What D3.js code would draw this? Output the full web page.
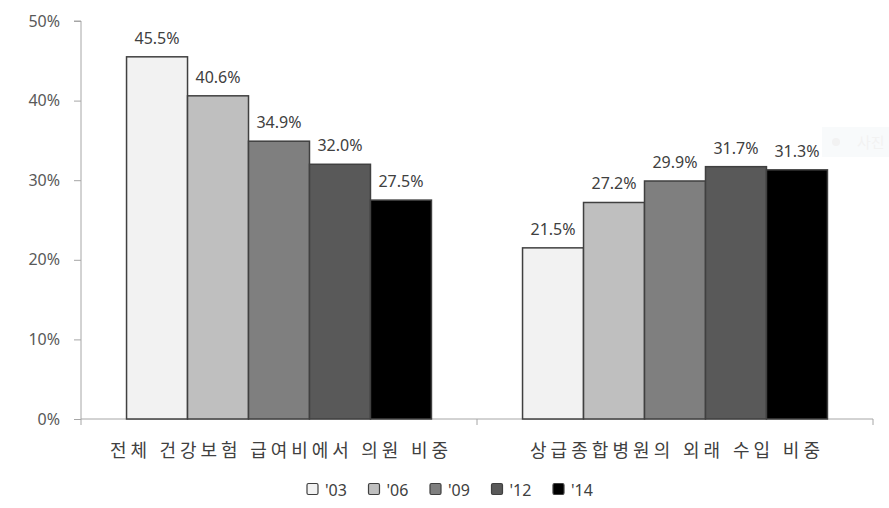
<!DOCTYPE html>
<html><head><meta charset="utf-8">
<script src="https://cdn.jsdelivr.net/npm/d3@7"></script>
<style>body{margin:0;background:#fff}svg{display:block}</style>
</head><body>
<svg id="c" width="889" height="508"></svg>
<script>
const categories = ["전체 건강보험 급여비에서 의원 비중", "상급종합병원의 외래 수입 비중"];
const series = ["'03", "'06", "'09", "'12", "'14"];
const values03 = [45.5, 21.5];
const values06 = [40.6, 27.2];
const values09 = [34.9, 29.9];
const values12 = [32.0, 31.7];
const values14 = [27.5, 31.3];
const yTicks = [0, 10, 20, 30, 40, 50];
const colors = ["#f2f2f2", "#bfbfbf", "#7f7f7f", "#595959", "#000000"];

(function () {
const allValues = [values03, values06, values09, values12, values14];
const svg = d3.select("#c");
const font = "'Noto Sans','Noto Sans CJK KR',sans-serif";
const mLeft = 81, mRight = 873, mTop = 21, mBottom = 419;

const y = d3.scaleLinear().domain([0, 50]).range([mBottom, mTop]);
const x0 = d3.scaleBand().domain(categories).range([mLeft, mRight]).padding(0);
const x1 = d3.scaleBand().domain(series)
  .range([x0.bandwidth() * 0.115, x0.bandwidth() * 0.885]).padding(0);

// y axis
const yAxis = svg.append("g").attr("transform", `translate(${mLeft},0)`)
  .call(d3.axisLeft(y).tickValues(yTicks).tickSize(7).tickPadding(14).tickFormat(d => d + "%"));
yAxis.select(".domain").attr("d", `M-7,${mTop}H0V${mBottom + 6}`);
yAxis.selectAll("line").attr("stroke", "#a6a6a6");
yAxis.select(".domain").attr("stroke", "#a6a6a6");
yAxis.selectAll("text").attr("font-family", font).attr("font-size", 16).attr("fill", "#595959");

// x axis
const xAxis = svg.append("g").attr("transform", `translate(0,${mBottom})`);
xAxis.append("line").attr("x1", mLeft).attr("x2", mRight).attr("stroke", "#a6a6a6");
categories.forEach(c => {
  const xe = x0(c) + x0.bandwidth();
  xAxis.append("line").attr("x1", xe).attr("x2", xe).attr("y1", 0).attr("y2", 6).attr("stroke", "#a6a6a6");
});
const catWidths = [338, 290];
categories.forEach((c, i) => {
  xAxis.append("text").attr("x", x0(c) + x0.bandwidth() / 2).attr("y", 38)
    .attr("text-anchor", "middle").attr("font-family", font).attr("font-size", 18)
    .attr("fill", "#404040").attr("textLength", catWidths[i]).attr("lengthAdjust", "spacing")
    .text(c);
});

// bars
const groups = svg.selectAll("g.grp").data(categories).join("g").attr("class", "grp")
  .attr("transform", d => `translate(${x0(d)},0)`);
groups.each(function(c, ci) {
  const g = d3.select(this);
  series.forEach((s, si) => {
    const v = allValues[si][ci];
    g.append("rect").attr("x", x1(s)).attr("y", y(v)).attr("width", x1.bandwidth())
      .attr("height", y(0) - y(v)).attr("fill", colors[si])
      .attr("stroke", "#404040").attr("stroke-width", 1.5);
  });
  series.forEach((s, si) => {
    const v = allValues[si][ci];
    g.append("text").attr("x", x1(s) + x1.bandwidth() / 2).attr("y", y(v) - 13)
      .attr("text-anchor", "middle").attr("font-family", font).attr("font-size", 16)
      .attr("fill", "#404040").text(v.toFixed(1) + "%");
  });
});

// legend
const legX = d3.scalePoint().domain(series).range([307, 553]);
const leg = svg.append("g");
series.forEach((s, i) => {
  leg.append("rect").attr("x", legX(s)).attr("y", 483.5).attr("width", 11).attr("height", 11)
    .attr("rx", 1.5).attr("fill", colors[i]).attr("stroke", "#404040").attr("stroke-width", 1.2);
  leg.append("text").attr("x", legX(s) + 18).attr("y", 496).attr("font-family", font)
    .attr("font-size", 16).attr("fill", "#404040").text(s);
});

// faint overlay artifact
const ov = svg.append("g").attr("opacity", 0.5);
ov.append("rect").attr("x", 822).attr("y", 127).attr("width", 67).attr("height", 30).attr("fill", "#f3f6f9");
ov.append("circle").attr("cx", 836).attr("cy", 142).attr("r", 4).attr("fill", "#e6e6e6");
ov.append("text").attr("x", 857).attr("y", 148).attr("font-family", font).attr("font-size", 15)
  .attr("fill", "#e6e6e6").text("사진");
})();
</script>
</body></html>
